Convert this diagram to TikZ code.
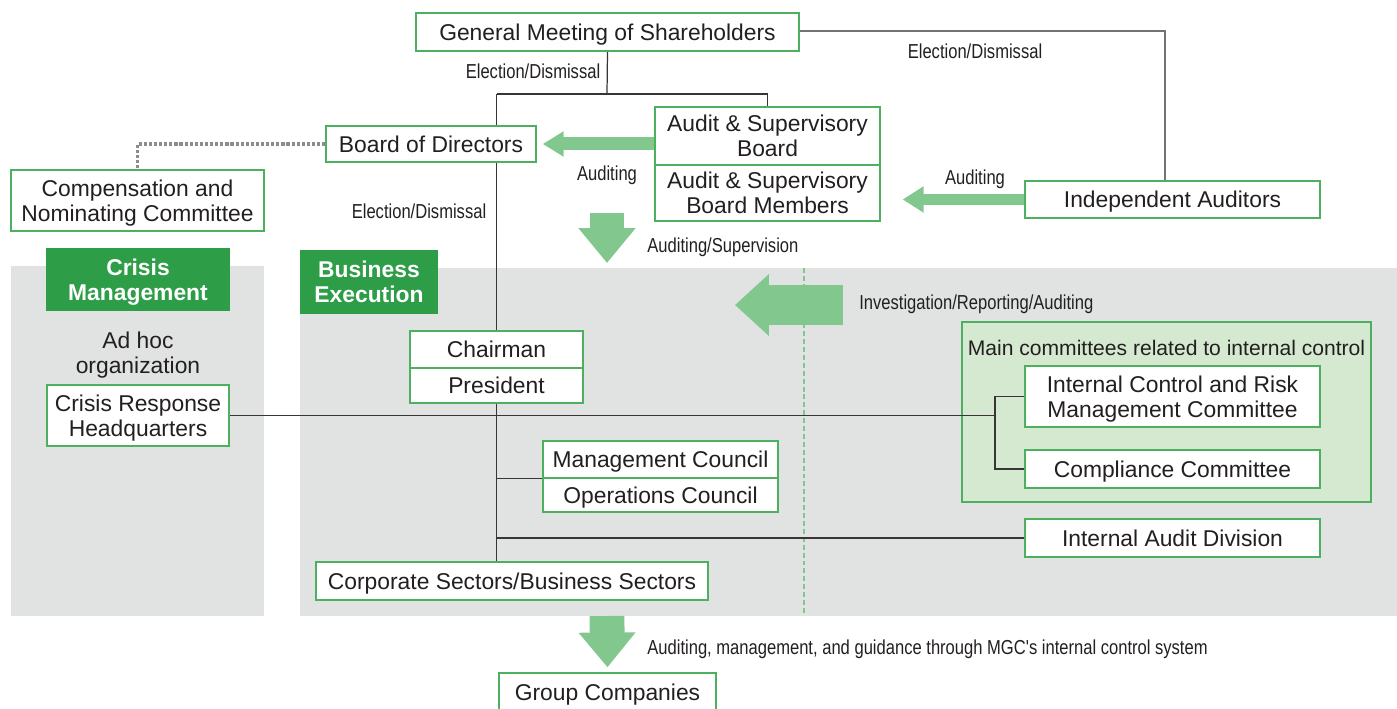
\documentclass[tikz,border=0pt]{standalone}
\usepackage{fontspec}
\setmainfont{Liberation Sans}
\newfontfamily\condfont[FakeStretch=0.82]{Liberation Sans}
\usepackage{tikz}
\usetikzlibrary{arrows.meta}
\definecolor{boxgreen}{HTML}{4DB05E}
\definecolor{darkgreen}{HTML}{2E9D47}
\definecolor{arrowgreen}{HTML}{82C88E}
\definecolor{lightgreen}{HTML}{D4E9D0}
\definecolor{panelgray}{HTML}{E0E3E2}
\definecolor{inkdark}{HTML}{231F20}
\pgfdeclarelayer{panels}
\pgfdeclarelayer{wires}
\pgfsetlayers{panels,wires,main}
\def\boxfont{\fontsize{13}{14.2}\selectfont}
\def\lblfont{\condfont\fontsize{11.5}{13}\selectfont}

\begin{document}
\begin{tikzpicture}[x=0.02cm, y=-0.02cm,
	box/.style={draw=boxgreen, line width=0.8pt, fill=white, text=inkdark, inner sep=0pt, text depth=0pt, align=center, font=\boxfont},
	headbox/.style={fill=darkgreen, text=white, inner sep=0pt, text depth=0pt, align=center, font=\bfseries\boxfont},
	lbl/.style={text=inkdark, inner sep=0pt, font=\lblfont},
	wire/.style={draw=inkdark!90, line width=0.7pt},
	graywire/.style={draw=black!55, line width=0.8pt},
	dotwire/.style={draw=black!45, line width=2pt, dash pattern=on 1.8pt off 1.1pt},
	gdash/.style={draw=arrowgreen, line width=0.8pt, dash pattern=on 2.8pt off 1.7pt},
	fat/.style={draw=arrowgreen}]
	\useasboundingbox (0,0) rectangle (1397,709);
	%\draw[step=50, black!20] (0,0) grid (1397,709);
	\begin{pgfonlayer}{panels}
		\fill[panelgray] (11,266) rectangle (264,616);
		\fill[panelgray] (300,268) rectangle (1397,616);
		\draw[gdash] (804,268) -- (804,614);
		\node[box, fill=lightgreen, minimum width=8.18cm, minimum height=3.6cm] (mainc) at (1166.5,412) {};
	\end{pgfonlayer}
	\node[text=inkdark, inner sep=0pt, text depth=0pt, font=\fontsize{12}{14}\selectfont] (maintitle) at (1166.5,348) {Main committees related to internal control};
	% top
	\node[box, minimum width=7.66cm, minimum height=0.76cm] (gms) at (607.5,32) {General Meeting of Shareholders};
	\node[box, minimum width=4.2cm, minimum height=0.72cm] (bod) at (431,144) {Board of Directors};
	\node[box, minimum width=4.5cm, minimum height=1.16cm] (asb) at (767.5,136) {Audit \& Supervisory\\Board};
	\node[box, minimum width=4.5cm, minimum height=1.12cm] (asbm) at (767.5,193) {Audit \& Supervisory\\Board Members};
	\node[box, minimum width=5.9cm, minimum height=0.74cm] (ia) at (1172.5,199.5) {Independent Auditors};
	\node[box, minimum width=5.06cm, minimum height=1.22cm] (cnc) at (137.5,200.5) {Compensation and\\Nominating Committee};
	% crisis side
	\node[headbox, minimum width=3.68cm, minimum height=1.26cm] (crm) at (138,279.5) {Crisis\\Management};
	\node[text=inkdark, inner sep=0pt, text depth=0pt, align=center, font=\boxfont] (adhoc) at (138,353) {Ad hoc\\organization};
	\node[box, minimum width=3.64cm, minimum height=1.22cm] (crh) at (138,415.5) {Crisis Response\\Headquarters};
	% execution side
	\node[headbox, minimum width=2.76cm, minimum height=1.28cm] (bex) at (369,282) {Business\\Execution};
	\node[box, minimum width=3.46cm, minimum height=0.74cm] (chair) at (496.5,349.5) {Chairman};
	\node[box, minimum width=3.46cm, minimum height=0.7cm] (pres) at (496.5,385.5) {President};
	\node[box, minimum width=4.7cm, minimum height=0.74cm] (mgc) at (660.5,459.5) {Management Council};
	\node[box, minimum width=4.7cm, minimum height=0.68cm] (opc) at (660.5,495) {Operations Council};
	\node[box, minimum width=7.84cm, minimum height=0.76cm] (csbs) at (512,581) {Corporate Sectors/Business Sectors};
	\node[box, minimum width=4.34cm, minimum height=0.78cm] (grp) at (607.5,692.5) {Group Companies};
	% internal control
	\node[box, minimum width=5.9cm, minimum height=1.22cm] (icrm) at (1172.5,396.5) {Internal Control and Risk\\Management Committee};
	\node[box, minimum width=5.9cm, minimum height=0.76cm] (comp) at (1172.5,469) {Compliance Committee};
	\node[box, minimum width=5.9cm, minimum height=0.76cm] (iad) at (1172.5,538) {Internal Audit Division};

	\begin{pgfonlayer}{wires}
		\coordinate (split) at (607,94);
		\coordinate (fork) at (995,415.5);
		\draw[wire] (gms.south) -- (split);
		\draw[wire] (chair |- split) -- (split) -| (asb.north);
		\draw[wire] (chair |- split) -- (chair |- csbs.north);
		\draw[graywire] ([yshift=0.02cm]gms.east) -| ([xshift=-0.15cm]ia.north);
		\draw[dotwire] (bod.west) -| (cnc.north);
		\draw[wire] (crh.east) -- (fork);
		\draw[wire] (icrm.west) -| (fork) |- (comp.west);
		\draw[wire] (chair |- mgc.south west) -- (mgc.south west);
		\draw[wire] (chair |- iad.west) -- (iad.west);
	\end{pgfonlayer}

	\coordinate (bodtip) at ([xshift=0.12cm]bod.east);
	\draw[fat, line width=7.4pt, -{Triangle[length=11.9pt, width=13.6pt]}] (asb.west |- bod.east) -- (bodtip);
	\draw[fat, line width=6.8pt, -{Triangle[length=11.9pt, width=14.2pt]}, shorten >=0.44cm] (ia.west) -- (asbm.east |- ia.west);
	\coordinate (sup1) at (607,213);
	\coordinate (sup2) at (607,263);
	\draw[fat, line width=19.8pt, -{Triangle[length=19.8pt, width=31.2pt]}] (sup1) -- (sup2);
	\coordinate (inv1) at (843,305);
	\coordinate (inv2) at (735,305);
	\draw[fat, line width=22.7pt, -{Triangle[length=19.3pt, width=34pt]}] (inv1) -- (inv2);
	\coordinate (grp1) at (607,616);
	\draw[fat, line width=19.8pt, -{Triangle[length=19.8pt, width=31.2pt]}, shorten >=0.1cm] (grp1) -- (grp.north);

	\node[lbl] (el1) at (533,71) {Election/Dismissal};
	\node[lbl] (el2) at (975,51) {Election/Dismissal};
	\node[lbl] (el3) at (419,211) {Election/Dismissal};
	\node[lbl] (au1) at (607,175) {Auditing};
	\node[lbl] (au2) at (975,179) {Auditing};
	\node[lbl, anchor=west] (ausup) at (647,247) {Auditing/Supervision};
	\node[lbl, anchor=west] (invrep) at (859,304) {Investigation/Reporting/Auditing};
	\node[lbl, anchor=west] (grplbl) at (647,649) {Auditing, management, and guidance through MGC's internal control system};
\end{tikzpicture}
\end{document}
